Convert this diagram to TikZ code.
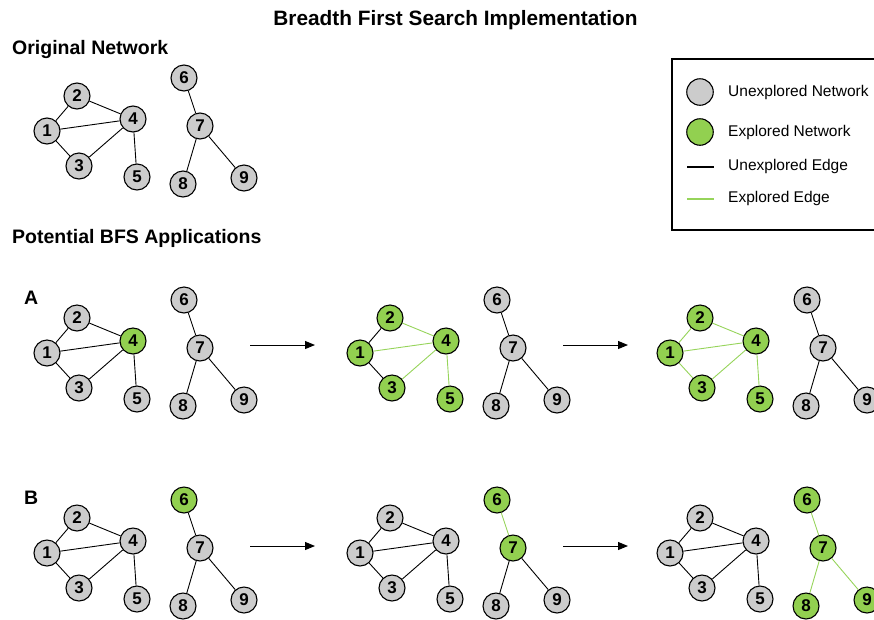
\documentclass[tikz,border=0pt]{standalone}
\usepackage{fontspec}
\setmainfont{Liberation Sans}
\usetikzlibrary{arrows.meta,positioning}
\definecolor{unexGray}{RGB}{204,204,204}
\definecolor{expGreen}{RGB}{146,208,80}
\definecolor{edgeGreen}{RGB}{150,212,90}
% node positions and edges of the network (pixels)
\newcommand{\netnodes}{1/47/131, 2/77/96, 3/79/166, 4/133/119, 5/137/177, 6/184/78, 7/200/126, 8/183/184, 9/244/178}
\newcommand{\netedges}{1/2, 1/3, 1/4, 2/4, 3/4, 4/5, 6/7, 7/8, 7/9}

\begin{document}
\begin{tikzpicture}[x=1pt, y=-1pt,
    unode/.style={circle, draw, line width=1.1pt, fill=unexGray, minimum size=26pt, inner sep=0pt, font=\bfseries\fontsize{17}{17}\selectfont},
    enode/.style={unode, fill=expGreen},
    uedge/.style={line width=0.9pt, black},
    eedge/.style={line width=0.9pt, edgeGreen},
    stepArrow/.style={-{Triangle[length=10pt,width=8pt]}, line width=1pt},
    heading/.style={font=\bfseries\fontsize{19.5}{20}\selectfont, anchor=base west, inner sep=0pt},
    legtext/.style={font=\fontsize{15.5}{16}\selectfont, anchor=base west, inner sep=0pt}
  ]
  \clip (0,0) rectangle (874,619);

  % Headings
  \node[heading, anchor=base, font=\bfseries\fontsize{20.8}{21}\selectfont] (title) at (455.5,25) {Breadth First Search Implementation};
  \node[heading] (orig) at (12,54) {Original Network};
  \node[heading] (pot) at (12,243) {Potential BFS Applications};
  \node[heading] (rowA) at (24,304) {A};
  \node[heading] (rowB) at (24,504) {B};

  % Original network
  \begin{scope}[name prefix=o-]
    \foreach \n/\x/\y in \netnodes \node[unode, n\n/.try] (\n) at (\x,\y) {\n};
    \foreach \a/\b in \netedges \draw[uedge, e\a\b/.try] (\a) -- (\b);
  \end{scope}

  % Row A: start at node 4
  \begin{scope}[shift={(0,222)}, name prefix=a1-, n4/.style=enode]
    \foreach \n/\x/\y in \netnodes \node[unode, n\n/.try] (\n) at (\x,\y) {\n};
    \foreach \a/\b in \netedges \draw[uedge, e\a\b/.try] (\a) -- (\b);
  \end{scope}
  \begin{scope}[shift={(313,222)}, name prefix=a2-,
      n1/.style=enode, n2/.style=enode, n3/.style=enode, n4/.style=enode, n5/.style=enode,
      e14/.style=eedge, e24/.style=eedge, e34/.style=eedge, e45/.style=eedge]
    \foreach \n/\x/\y in \netnodes \node[unode, n\n/.try] (\n) at (\x,\y) {\n};
    \foreach \a/\b in \netedges \draw[uedge, e\a\b/.try] (\a) -- (\b);
  \end{scope}
  \begin{scope}[shift={(623,222)}, name prefix=a3-,
      n1/.style=enode, n2/.style=enode, n3/.style=enode, n4/.style=enode, n5/.style=enode,
      e12/.style=eedge, e13/.style=eedge, e14/.style=eedge, e24/.style=eedge, e34/.style=eedge, e45/.style=eedge]
    \foreach \n/\x/\y in \netnodes \node[unode, n\n/.try] (\n) at (\x,\y) {\n};
    \foreach \a/\b in \netedges \draw[uedge, e\a\b/.try] (\a) -- (\b);
  \end{scope}

  % Row B: start at node 6
  \begin{scope}[shift={(0,422)}, name prefix=b1-, n6/.style=enode]
    \foreach \n/\x/\y in \netnodes \node[unode, n\n/.try] (\n) at (\x,\y) {\n};
    \foreach \a/\b in \netedges \draw[uedge, e\a\b/.try] (\a) -- (\b);
  \end{scope}
  \begin{scope}[shift={(313,422)}, name prefix=b2-,
      n6/.style=enode, n7/.style=enode, e67/.style=eedge]
    \foreach \n/\x/\y in \netnodes \node[unode, n\n/.try] (\n) at (\x,\y) {\n};
    \foreach \a/\b in \netedges \draw[uedge, e\a\b/.try] (\a) -- (\b);
  \end{scope}
  \begin{scope}[shift={(623,422)}, name prefix=b3-,
      n6/.style=enode, n7/.style=enode, n8/.style=enode, n9/.style=enode,
      e67/.style=eedge, e78/.style=eedge, e79/.style=eedge]
    \foreach \n/\x/\y in \netnodes \node[unode, n\n/.try] (\n) at (\x,\y) {\n};
    \foreach \a/\b in \netedges \draw[uedge, e\a\b/.try] (\a) -- (\b);
  \end{scope}

  % Step arrows
  \coordinate (sA1) at (250,345); \coordinate (tA1) at (315,345);
  \coordinate (sA2) at (563,345); \coordinate (tA2) at (628,345);
  \coordinate (sB1) at (250,546); \coordinate (tB1) at (315,546);
  \coordinate (sB2) at (563,546); \coordinate (tB2) at (628,546);
  \draw[stepArrow] (sA1) -- (tA1);
  \draw[stepArrow] (sA2) -- (tA2);
  \draw[stepArrow] (sB1) -- (tB1);
  \draw[stepArrow] (sB2) -- (tB2);

  % Legend
  \draw[line width=1.8pt] (672,59) rectangle (890,230);
  \node[unode, minimum size=26.5pt] (legU) at (700,92) {};
  \node[enode, minimum size=26.5pt] (legE) at (700,132) {};
  \coordinate (luA) at (687,167); \coordinate (luB) at (714,167);
  \coordinate (leA) at (687,199); \coordinate (leB) at (714,199);
  \draw[uedge, line width=1.8pt] (luA) -- (luB);
  \draw[eedge, line width=1.8pt] (leA) -- (leB);
  \node[legtext] (legUt) at (728,96) {Unexplored Network};
  \node[legtext] (legEt) at (728,136) {Explored Network};
  \node[legtext] (legUe) at (728,170.5) {Unexplored Edge};
  \node[legtext] (legEe) at (728,202.5) {Explored Edge};
\end{tikzpicture}
\end{document}
